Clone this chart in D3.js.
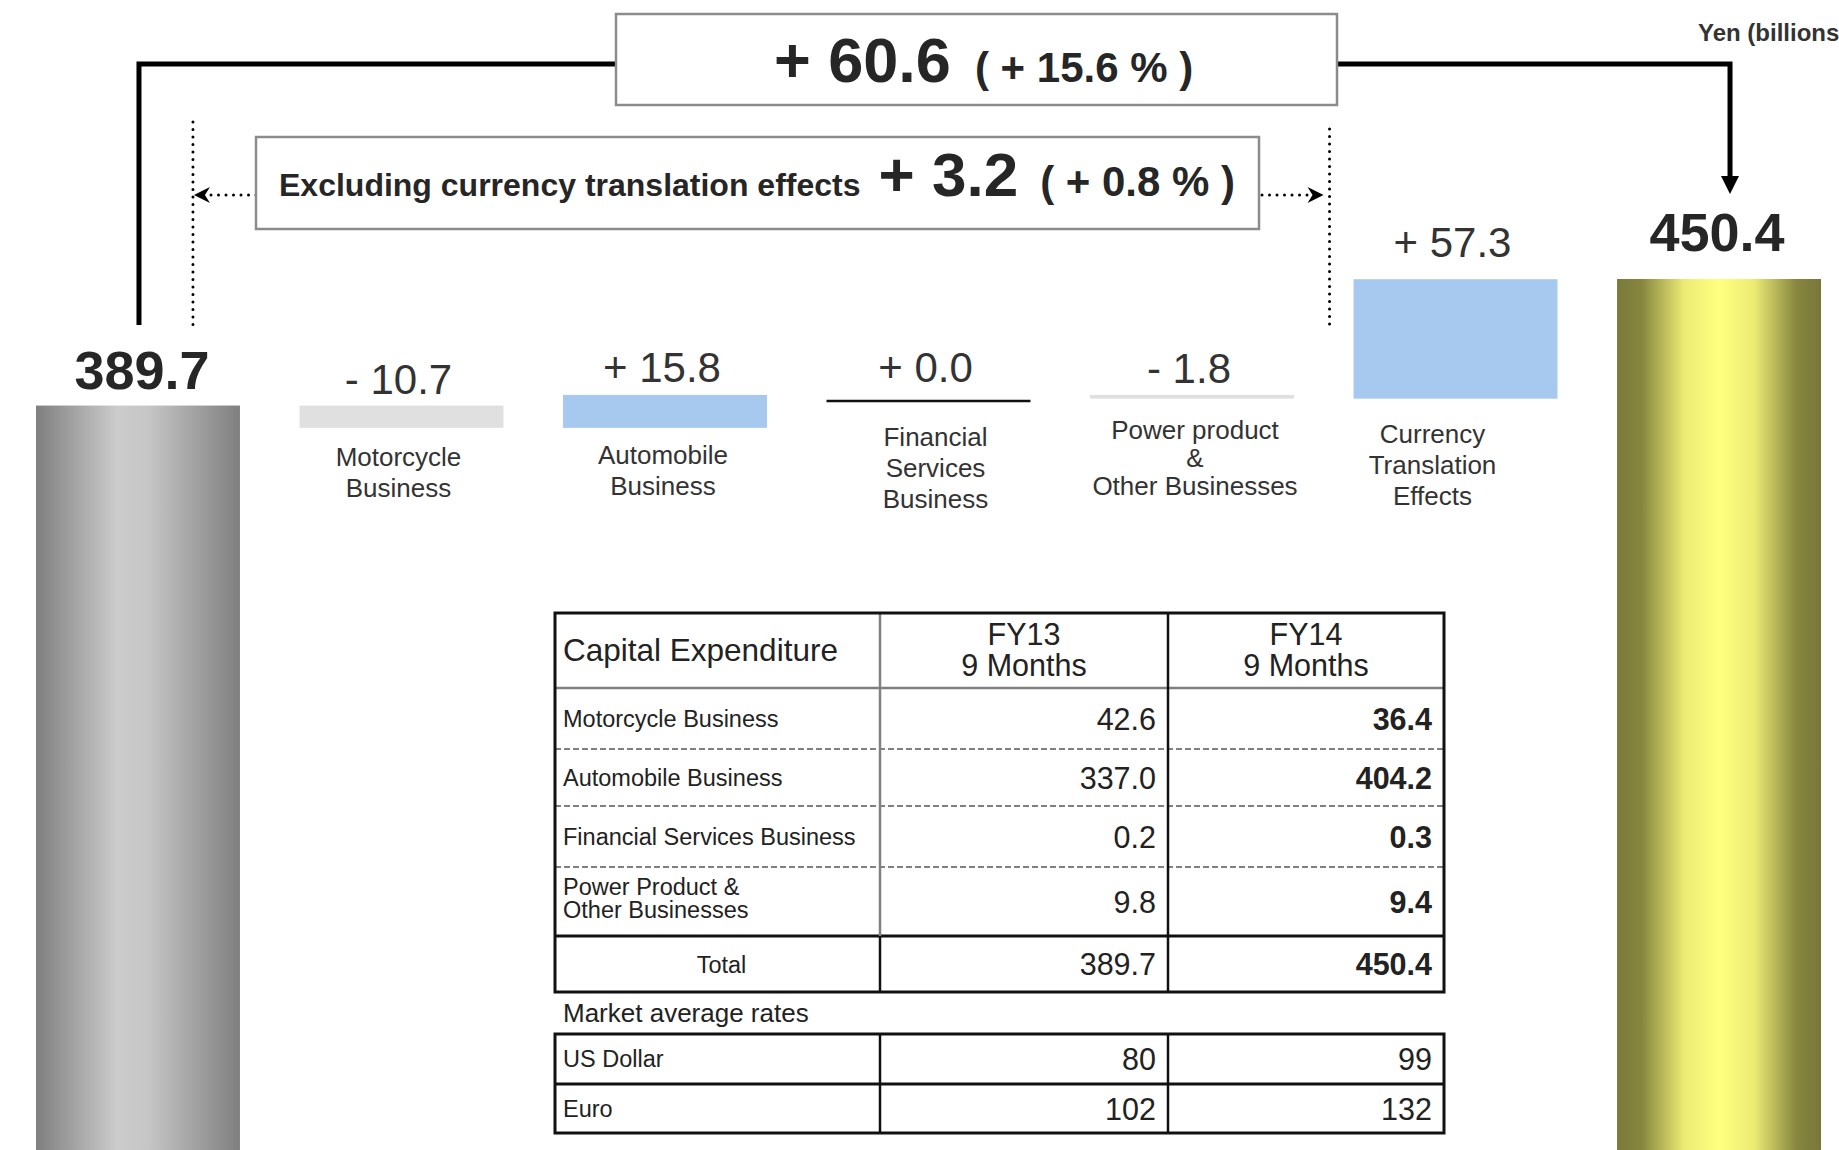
<!DOCTYPE html>
<html>
<head>
<meta charset="utf-8">
<script src="https://cdn.jsdelivr.net/npm/d3@7"></script>
<style>
  body { margin: 0; background: #fff; }
  svg { display: block; font-family: "Liberation Sans", Arial, sans-serif; }
</style>
</head>
<body>
<div id="chart"></div>
<script>
// ---- data ----
var categories = ["FY13", "Motorcycle", "Automobile", "Financial", "Power", "Currency", "FY14"];
var categoryLines = [[], ["Motorcycle", "Business"], ["Automobile", "Business"],
  ["Financial", "Services", "Business"], ["Power product", "&", "Other Businesses"],
  ["Currency", "Translation", "Effects"], []];
var totals = [389.7, 450.4];
var steps = [-10.7, 15.8, 0.0, -1.8, 57.3];
var totalChange = [60.6, 15.6];   // amount, percent
var exclChange = [3.2, 0.8];      // excluding currency translation

var tableRows = [["Motorcycle Business"], ["Automobile Business"], ["Financial Services Business"], ["Power Product &", "Other Businesses"]];
var fy13 = [42.6, 337.0, 0.2, 9.8];
var fy14 = [36.4, 404.2, 0.3, 9.4];
var rateNames = ["US Dollar", "Euro"];
var rates13 = [80, 102];
var rates14 = [99, 132];

// ---- setup ----
var W = 1839, H = 1150;
var svg = d3.select("#chart").append("svg").attr("width", W).attr("height", H);
var defs = svg.append("defs");

var x = d3.scaleBand().domain(categories).range([36, 1821]).paddingInner(0.226).paddingOuter(0);
var y = d3.scaleLinear().domain([0, 450.4]).range([1218, 279]);
var bw = x.bandwidth();

// small hand placement tweaks, as in the slide
var valueGap = [17, 12, 13, 13, 12, 22, 28];
var labelShift = [[0, 0], [-3, 4], [-2, 2], [7, 0], [3, -10], [-23, -3], [0, 0]];
var lineGap = [31, 31, 31, 31, 28, 31, 31];

function grad(id, stops) {
  var g = defs.append("linearGradient").attr("id", id)
    .attr("x1", 0).attr("x2", 1).attr("y1", 0).attr("y2", 0);
  stops.forEach(function(s) { g.append("stop").attr("offset", s[0]).attr("stop-color", s[1]); });
}
grad("gray", [[0, "#7f7f7f"], [0.4, "#cccccc"], [0.55, "#c6c6c6"], [1, "#7f7f7f"]]);
grad("gold", [[0, "#7a7a3b"], [0.12, "#86863f"], [0.33, "#ecec75"], [0.5, "#ffff80"], [0.67, "#ecec75"], [0.88, "#86863f"], [1, "#77773a"]]);

function fmt(v) { return (v < 0 ? "- " : "+ ") + Math.abs(v).toFixed(1); }

// waterfall pieces
var bars = [{cat: categories[0], from: 0, to: totals[0], kind: "total", fill: "url(#gray)"}];
var cum = totals[0];
steps.forEach(function(v, i) {
  bars.push({cat: categories[i + 1], from: cum, to: cum + v, value: v,
    kind: v > 0 ? "up" : (v < 0 ? "down" : "zero"),
    fill: v > 0 ? "#a7c9ef" : "#e0e0e0"});
  cum += v;
});
bars.push({cat: categories[6], from: 0, to: totals[1], kind: "total", fill: "url(#gold)"});

var g = svg.append("g");
g.selectAll("rect.bar").data(bars.filter(function(d) { return d.kind != "zero"; }))
  .enter().append("rect").attr("class", "bar")
  .attr("x", function(d) { return x(d.cat); })
  .attr("width", bw)
  .attr("y", function(d) { return y(Math.max(d.from, d.to)); })
  .attr("height", function(d) { return Math.abs(y(d.from) - y(d.to)); })
  .attr("fill", function(d) { return d.fill; });

// zero change drawn as a thin line
bars.filter(function(d) { return d.kind == "zero"; }).forEach(function(d) {
  g.append("line").attr("x1", x(d.cat)).attr("x2", x(d.cat) + bw)
    .attr("y1", y(d.to) + 6).attr("y2", y(d.to) + 6)
    .attr("stroke", "#111").attr("stroke-width", 2.5);
});

// value labels
g.selectAll("text.val").data(bars).enter().append("text")
  .attr("x", function(d, i) { return x(d.cat) + bw / 2 + (d.kind == "total" ? (i == 0 ? 4 : -2) : -3); })
  .attr("y", function(d, i) { return y(Math.max(d.from, d.to)) - valueGap[i]; })
  .attr("text-anchor", "middle")
  .attr("fill", function(d) { return d.kind == "total" ? "#262626" : "#333"; })
  .attr("font-weight", function(d) { return d.kind == "total" ? "bold" : "normal"; })
  .attr("font-size", function(d) { return d.kind == "total" ? 54 : 42; })
  .text(function(d) { return d.kind == "total" ? d.to.toFixed(1) : fmt(d.value); });

// category labels
categories.forEach(function(c, i) {
  var lines = categoryLines[i];
  var t = g.append("text").attr("text-anchor", "middle").attr("font-size", 26).attr("fill", "#333");
  lines.forEach(function(l, j) {
    t.append("tspan").attr("x", x(c) + bw / 2 + labelShift[i][0])
      .attr("y", 468 + labelShift[i][1] + (j - (lines.length - 1) / 2) * lineGap[i] + 9).text(l);
  });
});

// ---- top annotations ----
var leftX = x(categories[0]) + bw / 2 + 1;
var rightX = x(categories[6]) + bw / 2 + 11;
svg.append("path")
  .attr("d", "M" + leftX + ",325 V64 H" + rightX + " V178")
  .attr("fill", "none").attr("stroke", "#000").attr("stroke-width", 5);
svg.append("path")
  .attr("d", "M" + (rightX - 9) + ",176 L" + (rightX + 9) + ",176 L" + rightX + ",194 Z")
  .attr("fill", "#000");

// dotted guides
var dotL = x(categories[0]) + bw - 47, dotR = x(categories[5]) - 24;
function dotted(x1, y1, x2, y2) {
  svg.append("line").attr("x1", x1).attr("y1", y1).attr("x2", x2).attr("y2", y2)
    .attr("stroke", "#000").attr("stroke-width", 3).attr("stroke-linecap", "round")
    .attr("stroke-dasharray", "0,7.5");
}
dotted(dotL, 122, dotL, 330);
dotted(dotR, 129, dotR, 330);
dotted(256, 195, dotL + 14, 195);
dotted(1262, 195, dotR - 14, 195);
svg.append("path").attr("d", "M" + (dotL + 1) + ",195 L" + (dotL + 17) + ",187 L" + (dotL + 12) + ",195 L" + (dotL + 17) + ",203 Z").attr("fill", "#000");
svg.append("path").attr("d", "M" + (dotR - 6) + ",195 L" + (dotR - 22) + ",187 L" + (dotR - 17) + ",195 L" + (dotR - 22) + ",203 Z").attr("fill", "#000");

// boxes
svg.append("rect").attr("x", 616).attr("y", 14).attr("width", 721).attr("height", 91)
  .attr("fill", "#fff").attr("stroke", "#8c8c8c").attr("stroke-width", 2.5);
svg.append("rect").attr("x", 256).attr("y", 137).attr("width", 1003).attr("height", 92)
  .attr("fill", "#fff").attr("stroke", "#8c8c8c").attr("stroke-width", 2.5);

var t1 = svg.append("text").attr("x", 774).attr("y", 82).attr("fill", "#262626").attr("font-weight", "bold");
t1.append("tspan").attr("font-size", 63).text(fmt(totalChange[0]));
t1.append("tspan").attr("font-size", 42).attr("dx", 24).text("( + " + totalChange[1].toFixed(1) + " % )");

var t2 = svg.append("text").attr("x", 279).attr("y", 196).attr("fill", "#262626").attr("font-weight", "bold");
t2.append("tspan").attr("font-size", 32).text("Excluding currency translation effects");
t2.append("tspan").attr("font-size", 62).attr("dx", 18).text(fmt(exclChange[0]));
t2.append("tspan").attr("font-size", 42).attr("dx", 22).text("( + " + exclChange[1].toFixed(1) + " % )");

svg.append("text").attr("x", 1698).attr("y", 41).attr("font-size", 24).attr("font-weight", "bold")
  .attr("fill", "#333").text("Yen (billions)");

// ---- table ----
var tx = [555, 880, 1168, 1444];
var ty = [613, 688, 749, 806, 867, 936, 992];
var tb = svg.append("g").attr("fill", "#222");

function hline(x1, x2, yy, color, w, dash) {
  tb.append("line").attr("x1", x1).attr("x2", x2).attr("y1", yy).attr("y2", yy)
    .attr("stroke", color).attr("stroke-width", w).attr("stroke-dasharray", dash || null);
}
function vline(xx, y1, y2, color, w) {
  tb.append("line").attr("x1", xx).attr("x2", xx).attr("y1", y1).attr("y2", y2)
    .attr("stroke", color).attr("stroke-width", w);
}
hline(tx[0], tx[3], ty[1], "#808080", 2.5);
for (var i = 2; i <= 4; i++) hline(tx[0], tx[3], ty[i], "#808080", 2, "6,3");
hline(tx[0], tx[3], ty[5], "#111", 3);
vline(tx[1], ty[0], ty[5], "#808080", 2.5);
vline(tx[1], ty[5], ty[6], "#111", 2.5);
vline(tx[2], ty[0], ty[6], "#111", 2.5);
tb.append("rect").attr("x", tx[0]).attr("y", ty[0]).attr("width", tx[3] - tx[0]).attr("height", ty[6] - ty[0])
  .attr("fill", "none").attr("stroke", "#111").attr("stroke-width", 3);

tb.append("text").attr("x", 563).attr("y", 661).attr("font-size", 31.5).text("Capital Expenditure");
[["FY13", "9 Months"], ["FY14", "9 Months"]].forEach(function(h, k) {
  var t = tb.append("text").attr("text-anchor", "middle").attr("font-size", 30.5);
  h.forEach(function(l, j) {
    t.append("tspan").attr("x", (tx[k + 1] + tx[k + 2]) / 2).attr("y", 645 + j * 31).text(l);
  });
});

tableRows.forEach(function(r, i) {
  var cy = (ty[i + 1] + ty[i + 2]) / 2;
  var t = tb.append("text").attr("font-size", 23.5);
  r.forEach(function(l, j) {
    t.append("tspan").attr("x", 563).attr("y", cy + 8 + (j - (r.length - 1) / 2) * 23 - (r.length - 1) * 3).text(l);
  });
  tb.append("text").attr("x", tx[2] - 12).attr("y", cy + 11).attr("text-anchor", "end")
    .attr("font-size", 30.5).text(fy13[i].toFixed(1));
  tb.append("text").attr("x", tx[3] - 12).attr("y", cy + 11).attr("text-anchor", "end")
    .attr("font-size", 30.5).attr("font-weight", "bold").text(fy14[i].toFixed(1));
});
var tcy = (ty[5] + ty[6]) / 2;
tb.append("text").attr("x", (tx[0] + tx[1]) / 2 + 4).attr("y", tcy + 9).attr("text-anchor", "middle")
  .attr("font-size", 23.5).text("Total");
tb.append("text").attr("x", tx[2] - 12).attr("y", tcy + 11).attr("text-anchor", "end")
  .attr("font-size", 30.5).text(totals[0].toFixed(1));
tb.append("text").attr("x", tx[3] - 12).attr("y", tcy + 11).attr("text-anchor", "end")
  .attr("font-size", 30.5).attr("font-weight", "bold").text(totals[1].toFixed(1));

// rates
tb.append("text").attr("x", 563).attr("y", 1022).attr("font-size", 26).text("Market average rates");
var ry = [1034, 1084, 1133];
hline(tx[0], tx[3], ry[1], "#111", 3);
vline(tx[1], ry[0], ry[2], "#111", 2.5);
vline(tx[2], ry[0], ry[2], "#111", 2.5);
tb.append("rect").attr("x", tx[0]).attr("y", ry[0]).attr("width", tx[3] - tx[0]).attr("height", ry[2] - ry[0])
  .attr("fill", "none").attr("stroke", "#111").attr("stroke-width", 3);
rateNames.forEach(function(n, i) {
  var cy = (ry[i] + ry[i + 1]) / 2;
  tb.append("text").attr("x", 563).attr("y", cy + 8).attr("font-size", 23.5).text(n);
  tb.append("text").attr("x", tx[2] - 12).attr("y", cy + 11).attr("text-anchor", "end")
    .attr("font-size", 30.5).text(rates13[i]);
  tb.append("text").attr("x", tx[3] - 12).attr("y", cy + 11).attr("text-anchor", "end")
    .attr("font-size", 30.5).text(rates14[i]);
});
</script>
</body>
</html>
